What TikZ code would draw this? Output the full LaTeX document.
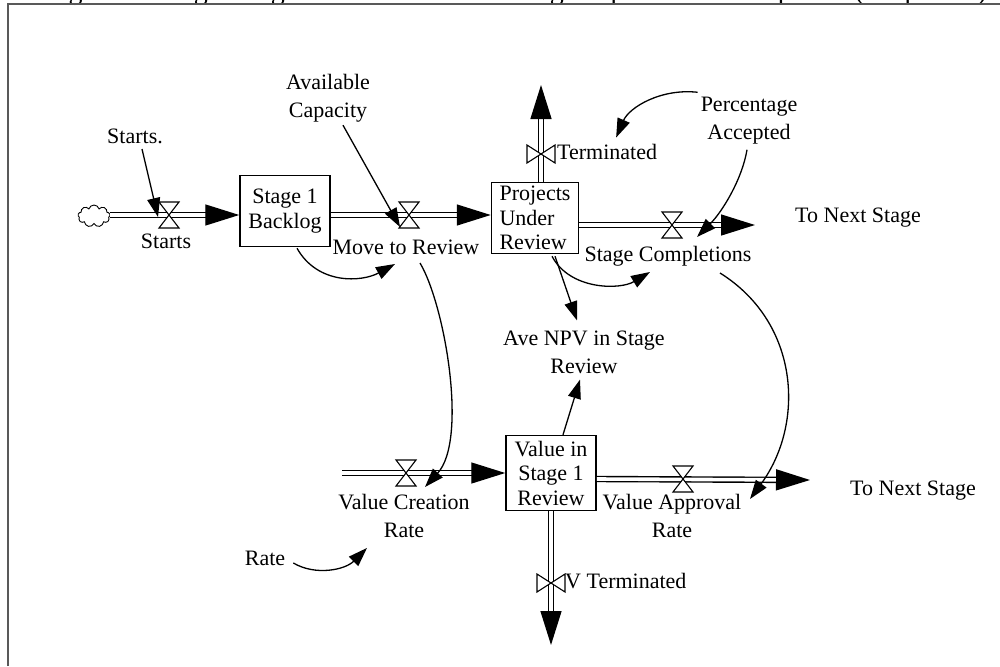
\documentclass[tikz,border=0pt]{standalone}
\usepackage{fontspec}
\setmainfont{Liberation Serif}
\usetikzlibrary{arrows.meta,shapes.symbols}

\begin{document}
\begin{tikzpicture}[
  x=1pt,y=-1pt,
  font=\fontsize{22}{28}\selectfont,
  box/.style={draw,line width=1.5pt,fill=white,minimum width=90pt,minimum height=71pt,inner sep=0pt,align=center,font=\fontsize{22}{24.5}\selectfont},
  lbl/.style={inner sep=0pt,align=center},
  pipe/.style={double,double distance=3.6pt,line width=1.4pt,-{Triangle[length=34pt,width=21pt]}},
  info/.style={line width=1.3pt,-{Triangle[length=19pt,width=13pt]}},
  frame/.style={line width=2pt,draw=black!65},
  valveV/.pic={\draw[line width=1.1pt,fill=white] (-10,-13) -- (10,-13) -- (-10,13) -- (10,13) -- cycle;},
  valveH/.pic={\draw[line width=1.1pt,fill=white] (-14,-9) -- (-14,9) -- (14,-9) -- (14,9) -- cycle;},
]
\useasboundingbox (0,0) rectangle (1000,666);
\clip (0,0) rectangle (1000,666);

% caption, cut off at the top
\node[anchor=base west,inner sep=0pt,font=\fontsize{28}{30}\selectfont] (caption) at (45,0) {Figure 4: Single Stage Coflow with Screening for product development (simplified)};
\draw[frame] (8,666) -- (8,4) -- (1000,4);

% stocks
\node[cloud,draw,line width=0.9pt,cloud puffs=9,minimum width=32pt,minimum height=22pt,inner sep=0pt] (src) at (94,216) {};
\node[box] (backlog) at (285,211) {Stage 1\\Backlog};
\node[box,minimum width=87pt,align=left] (projects) at (535,218) {Projects\\Under\\Review};
\node[box,minimum height=75pt] (value) at (551,473) {Value in\\Stage 1\\Review};

% valves and pipe ends
\coordinate (startsV) at (169,215);
\coordinate (moveV) at (409,215);
\coordinate (complV) at (672,225);
\coordinate (termV) at (541,154);
\coordinate (vcrV) at (406,473);
\coordinate (approvV) at (683,479);
\coordinate (vtermV) at (551,583);
\coordinate (outTop) at (755,225);
\coordinate (termTip) at (541,85);
\coordinate (vcrSrc) at (342,473);
\coordinate (outBot) at (810,480);
\coordinate (vtermTip) at (551,645);

% labels
\node[lbl,anchor=base] (startsLbl) at (166,248) {Starts};
\node[lbl,anchor=base] (startsIn) at (135,143) {Starts.};
\node[lbl] (capLbl) at (328,98) {Available\\Capacity};
\node[lbl,anchor=base] (moveLbl) at (406,254) {Move to Review};
\node[lbl,anchor=base west] (termLbl) at (557,159) {Terminated};
\node[lbl,anchor=base] (complLbl) at (668,261) {Stage Completions};
\node[lbl] (pctLbl) at (749,121) {Percentage\\Accepted};
\node[lbl,anchor=base] (nextTop) at (858,222) {To Next Stage};
\node[lbl] (npvLbl) at (584,352) {Ave NPV in Stage\\Review};
\node[lbl] (vcrLbl) at (404,516) {Value Creation\\Rate};
\node[lbl] (approvLbl) at (672,516) {Value Approval\\Rate};
\node[lbl,anchor=base] (nextBot) at (913,495) {To Next Stage};
\node[lbl,anchor=base west] (vtermLbl) at (565,588) {V Terminated};
\node[lbl,anchor=base] (rateLbl) at (265,565) {Rate};

% flows
\draw[pipe] (src.east |- startsV) -- (backlog.west |- startsV);
\draw[pipe] (backlog.east |- moveV) -- (projects.west |- moveV);
\draw[pipe] (projects.east |- complV) -- (outTop);
\draw[pipe] (projects.north -| termV) -- (termTip);
\draw[pipe] (vcrSrc) -- (value.west |- vcrV);
\draw[pipe] (value.east |- approvV) -- (outBot);
\draw[pipe] (value.south -| vtermV) -- (vtermTip);

\foreach \v in {startsV,moveV,complV,vcrV,approvV}
  \pic at (\v) {valveV};
\foreach \v in {termV,vtermV}
  \pic at (\v) {valveH};

% links
\draw[info] ([shift={(7,6)}]startsIn.base) -- ([shift={(-11,2)}]startsV);
\draw[info] ([shift={(15,3)}]capLbl.south) -- ([shift={(-9,12)}]moveV);
\draw[info] ([shift={(12,1)}]backlog.south) .. controls +(21,37) and +(-33,18) .. ([shift={(-11,10)}]moveLbl.base);
\draw[info] ([shift={(14,9)}]moveLbl.base) .. controls +(25,42) and +(43,-47) .. ([shift={(19,14)}]vcrV);
\draw[info] ([shift={(17,2)}]projects.south) .. controls +(18,34) and +(-30,18) .. ([shift={(-18,11)}]complLbl.base);
\draw[info] ([shift={(20,2)}]projects.south) -- ([shift={(-7,-10)}]npvLbl.north);
\draw[info] ([shift={(12,0)}]value.north) -- ([shift={(-4,6)}]npvLbl.south);
\draw[info] ([shift={(-3,-5)}]pctLbl.north west) .. controls +(-37,-4) and +(13,-30) .. ([shift={(9,-6)}]termLbl.north);
\draw[info] ([shift={(-2,5)}]pctLbl.south) .. controls +(-5,30) and +(25,-25) .. ([shift={(25,12)}]complV);
\draw[info] ([shift={(52,12)}]complLbl.base) .. controls +(80,50) and +(55,-75) .. ([shift={(67,20)}]approvV);
\draw[info] ([shift={(8,-2)}]rateLbl.base east) .. controls +(22,13) and +(-22,22) .. ([shift={(-37,10)}]vcrLbl.south);

\end{tikzpicture}
\end{document}
